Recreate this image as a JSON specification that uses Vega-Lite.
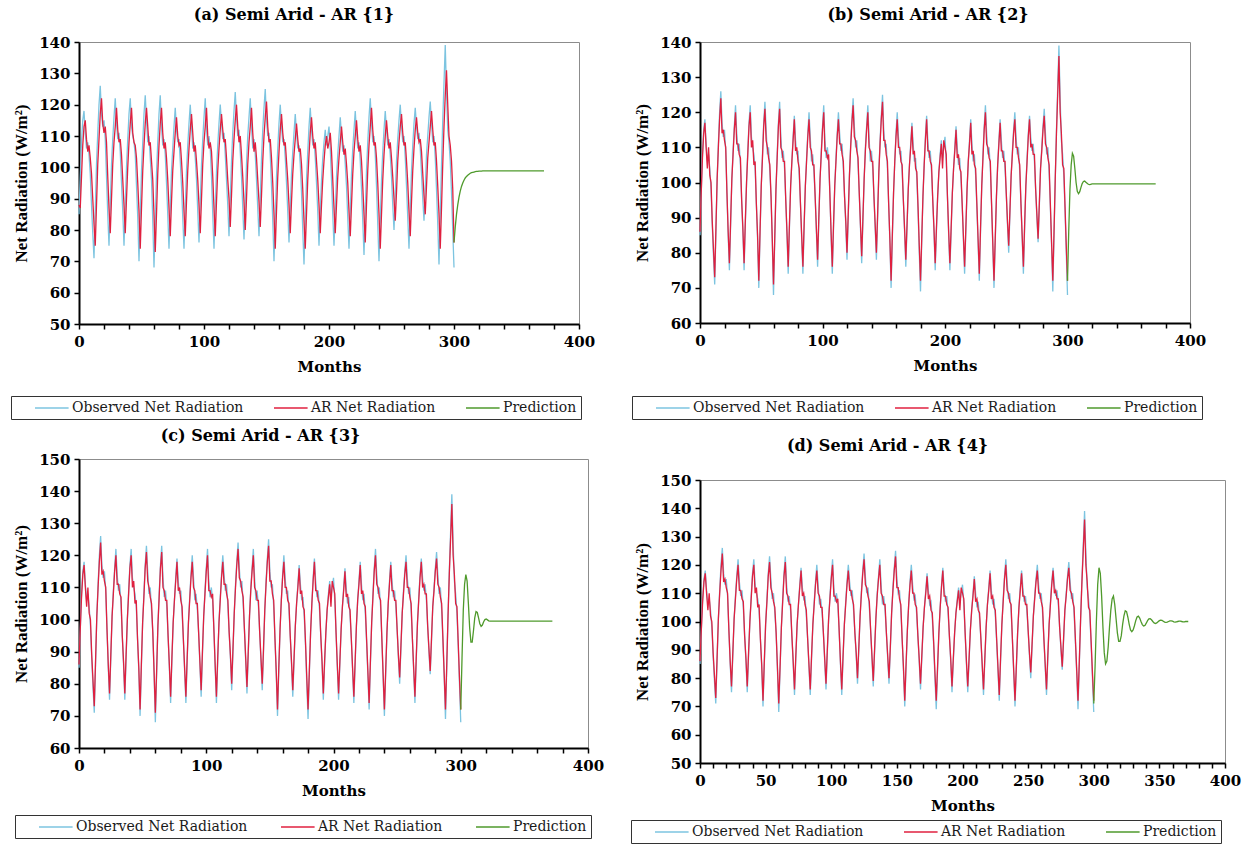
{
"$schema": "https://vega.github.io/schema/vega-lite/v6.json",
"background": "white",
"padding": {"left": 10, "top": 6, "right": 0, "bottom": 0},
"spacing": 25,
"datasets": {
"obs": [
{"m":0,"o":85,"a":88,"f":86},{"m":1,"o":97,"a":87,"f":97},{"m":2,"o":108,"a":97,"f":107},{"m":3,"o":115,"a":107,"f":114},{"m":4,"o":118,"a":113,"f":117},{"m":5,"o":111,"a":115,"f":110},{"m":6,"o":106,"a":109,"f":104},{"m":7,"o":108,"a":105,"f":110},{"m":8,"o":104,"a":107,"f":102},{"m":9,"o":98,"a":103,"f":100},{"m":10,"o":88,"a":98,"f":89},{"m":11,"o":79,"a":90,"f":81},
{"m":12,"o":71,"a":82,"f":73},{"m":13,"o":86,"a":75,"f":87},{"m":14,"o":101,"a":88,"f":101},{"m":15,"o":111,"a":101,"f":110},{"m":16,"o":120,"a":109,"f":118},{"m":17,"o":126,"a":117,"f":124},{"m":18,"o":117,"a":122,"f":114},{"m":19,"o":113,"a":114,"f":115},{"m":20,"o":115,"a":111,"f":112},{"m":21,"o":109,"a":113,"f":110},{"m":22,"o":97,"a":108,"f":97},{"m":23,"o":85,"a":97,"f":86},
{"m":24,"o":75,"a":87,"f":77},{"m":25,"o":88,"a":79,"f":89},{"m":26,"o":101,"a":90,"f":101},{"m":27,"o":109,"a":101,"f":108},{"m":28,"o":116,"a":108,"f":115},{"m":29,"o":122,"a":113,"f":120},{"m":30,"o":114,"a":119,"f":111},{"m":31,"o":109,"a":112,"f":111},{"m":32,"o":111,"a":108,"f":108},{"m":33,"o":105,"a":109,"f":107},{"m":34,"o":95,"a":104,"f":95},{"m":35,"o":86,"a":96,"f":87},
{"m":36,"o":75,"a":88,"f":77},{"m":37,"o":88,"a":79,"f":89},{"m":38,"o":100,"a":90,"f":100},{"m":39,"o":109,"a":100,"f":108},{"m":40,"o":117,"a":108,"f":116},{"m":41,"o":122,"a":114,"f":120},{"m":42,"o":113,"a":119,"f":110},{"m":43,"o":110,"a":111,"f":112},{"m":44,"o":108,"a":108,"f":105},{"m":45,"o":104,"a":107,"f":106},{"m":46,"o":94,"a":103,"f":94},{"m":47,"o":84,"a":95,"f":85},
{"m":48,"o":70,"a":86,"f":72},{"m":49,"o":85,"a":74,"f":86},{"m":50,"o":99,"a":87,"f":99},{"m":51,"o":108,"a":99,"f":107},{"m":52,"o":117,"a":107,"f":116},{"m":53,"o":123,"a":114,"f":121},{"m":54,"o":115,"a":119,"f":112},{"m":55,"o":108,"a":113,"f":110},{"m":56,"o":110,"a":107,"f":107},{"m":57,"o":103,"a":108,"f":105},{"m":58,"o":96,"a":102,"f":96},{"m":59,"o":83,"a":96,"f":84},
{"m":60,"o":68,"a":85,"f":71},{"m":61,"o":83,"a":73,"f":84},{"m":62,"o":98,"a":85,"f":98},{"m":63,"o":108,"a":98,"f":107},{"m":64,"o":117,"a":107,"f":116},{"m":65,"o":123,"a":114,"f":121},{"m":66,"o":113,"a":119,"f":110},{"m":67,"o":107,"a":111,"f":109},{"m":68,"o":109,"a":106,"f":106},{"m":69,"o":104,"a":108,"f":106},{"m":70,"o":95,"a":103,"f":95},{"m":71,"o":85,"a":96,"f":86},
{"m":72,"o":74,"a":87,"f":76},{"m":73,"o":87,"a":78,"f":88},{"m":74,"o":99,"a":89,"f":99},{"m":75,"o":106,"a":99,"f":106},{"m":76,"o":113,"a":105,"f":112},{"m":77,"o":119,"a":111,"f":118},{"m":78,"o":112,"a":116,"f":109},{"m":79,"o":108,"a":110,"f":110},{"m":80,"o":109,"a":107,"f":106},{"m":81,"o":102,"a":108,"f":104},{"m":82,"o":94,"a":102,"f":94},{"m":83,"o":84,"a":95,"f":85},
{"m":84,"o":74,"a":86,"f":76},{"m":85,"o":87,"a":78,"f":88},{"m":86,"o":99,"a":89,"f":99},{"m":87,"o":107,"a":99,"f":106},{"m":88,"o":114,"a":106,"f":113},{"m":89,"o":120,"a":112,"f":118},{"m":90,"o":113,"a":117,"f":110},{"m":91,"o":106,"a":111,"f":109},{"m":92,"o":108,"a":105,"f":105},{"m":93,"o":103,"a":107,"f":105},{"m":94,"o":96,"a":102,"f":96},{"m":95,"o":86,"a":96,"f":87},
{"m":96,"o":76,"a":88,"f":78},{"m":97,"o":89,"a":79,"f":90},{"m":98,"o":101,"a":90,"f":101},{"m":99,"o":109,"a":101,"f":108},{"m":100,"o":116,"a":108,"f":115},{"m":101,"o":122,"a":113,"f":120},{"m":102,"o":112,"a":119,"f":109},{"m":103,"o":107,"a":110,"f":109},{"m":104,"o":110,"a":106,"f":107},{"m":105,"o":106,"a":108,"f":108},{"m":106,"o":97,"a":105,"f":97},{"m":107,"o":85,"a":97,"f":86},
{"m":108,"o":74,"a":87,"f":76},{"m":109,"o":87,"a":78,"f":88},{"m":110,"o":99,"a":89,"f":99},{"m":111,"o":107,"a":99,"f":106},{"m":112,"o":114,"a":106,"f":113},{"m":113,"o":120,"a":112,"f":118},{"m":114,"o":114,"a":117,"f":111},{"m":115,"o":109,"a":112,"f":111},{"m":116,"o":111,"a":108,"f":108},{"m":117,"o":104,"a":109,"f":106},{"m":118,"o":96,"a":103,"f":96},{"m":119,"o":88,"a":96,"f":89},
{"m":120,"o":78,"a":90,"f":80},{"m":121,"o":90,"a":81,"f":91},{"m":122,"o":102,"a":91,"f":102},{"m":123,"o":111,"a":102,"f":110},{"m":124,"o":118,"a":109,"f":117},{"m":125,"o":124,"a":115,"f":122},{"m":126,"o":116,"a":120,"f":113},{"m":127,"o":110,"a":113,"f":112},{"m":128,"o":112,"a":108,"f":109},{"m":129,"o":105,"a":110,"f":107},{"m":130,"o":97,"a":104,"f":97},{"m":131,"o":87,"a":97,"f":88},
{"m":132,"o":77,"a":89,"f":79},{"m":133,"o":89,"a":80,"f":90},{"m":134,"o":101,"a":90,"f":101},{"m":135,"o":110,"a":101,"f":109},{"m":136,"o":116,"a":108,"f":115},{"m":137,"o":122,"a":113,"f":120},{"m":138,"o":113,"a":119,"f":110},{"m":139,"o":106,"a":111,"f":109},{"m":140,"o":109,"a":105,"f":106},{"m":141,"o":104,"a":108,"f":106},{"m":142,"o":96,"a":103,"f":96},{"m":143,"o":87,"a":96,"f":88},
{"m":144,"o":78,"a":89,"f":80},{"m":145,"o":90,"a":81,"f":91},{"m":146,"o":103,"a":91,"f":103},{"m":147,"o":112,"a":102,"f":111},{"m":148,"o":119,"a":110,"f":118},{"m":149,"o":125,"a":116,"f":123},{"m":150,"o":115,"a":121,"f":112},{"m":151,"o":110,"a":113,"f":112},{"m":152,"o":111,"a":108,"f":108},{"m":153,"o":104,"a":109,"f":106},{"m":154,"o":94,"a":103,"f":94},{"m":155,"o":83,"a":95,"f":84},
{"m":156,"o":70,"a":85,"f":72},{"m":157,"o":84,"a":74,"f":85},{"m":158,"o":97,"a":86,"f":97},{"m":159,"o":106,"a":97,"f":106},{"m":160,"o":114,"a":105,"f":113},{"m":161,"o":120,"a":112,"f":118},{"m":162,"o":113,"a":117,"f":110},{"m":163,"o":108,"a":111,"f":110},{"m":164,"o":109,"a":107,"f":106},{"m":165,"o":103,"a":108,"f":105},{"m":166,"o":95,"a":102,"f":95},{"m":167,"o":86,"a":96,"f":87},
{"m":168,"o":76,"a":88,"f":78},{"m":169,"o":87,"a":79,"f":88},{"m":170,"o":98,"a":89,"f":98},{"m":171,"o":105,"a":98,"f":105},{"m":172,"o":111,"a":104,"f":110},{"m":173,"o":117,"a":109,"f":116},{"m":174,"o":111,"a":114,"f":108},{"m":175,"o":106,"a":109,"f":109},{"m":176,"o":107,"a":105,"f":104},{"m":177,"o":101,"a":106,"f":103},{"m":178,"o":92,"a":101,"f":93},{"m":179,"o":80,"a":93,"f":82},
{"m":180,"o":69,"a":83,"f":72},{"m":181,"o":83,"a":74,"f":84},{"m":182,"o":96,"a":85,"f":96},{"m":183,"o":105,"a":96,"f":105},{"m":184,"o":113,"a":104,"f":112},{"m":185,"o":119,"a":111,"f":118},{"m":186,"o":112,"a":116,"f":109},{"m":187,"o":107,"a":110,"f":109},{"m":188,"o":109,"a":106,"f":106},{"m":189,"o":103,"a":108,"f":105},{"m":190,"o":95,"a":102,"f":95},{"m":191,"o":86,"a":96,"f":87},
{"m":192,"o":75,"a":88,"f":77},{"m":193,"o":86,"a":79,"f":87},{"m":194,"o":96,"a":88,"f":96},{"m":195,"o":103,"a":96,"f":103},{"m":196,"o":108,"a":102,"f":107},{"m":197,"o":112,"a":107,"f":111},{"m":198,"o":107,"a":110,"f":104},{"m":199,"o":110,"a":106,"f":112},{"m":200,"o":113,"a":108,"f":110},{"m":201,"o":106,"a":111,"f":108},{"m":202,"o":96,"a":105,"f":96},{"m":203,"o":85,"a":96,"f":86},
{"m":204,"o":75,"a":87,"f":77},{"m":205,"o":86,"a":79,"f":87},{"m":206,"o":97,"a":88,"f":97},{"m":207,"o":104,"a":97,"f":104},{"m":208,"o":110,"a":103,"f":109},{"m":209,"o":116,"a":108,"f":115},{"m":210,"o":110,"a":113,"f":107},{"m":211,"o":105,"a":108,"f":108},{"m":212,"o":107,"a":104,"f":104},{"m":213,"o":101,"a":106,"f":103},{"m":214,"o":94,"a":101,"f":94},{"m":215,"o":84,"a":95,"f":85},
{"m":216,"o":74,"a":86,"f":76},{"m":217,"o":86,"a":78,"f":87},{"m":218,"o":98,"a":88,"f":98},{"m":219,"o":106,"a":98,"f":106},{"m":220,"o":112,"a":105,"f":111},{"m":221,"o":118,"a":110,"f":117},{"m":222,"o":111,"a":115,"f":108},{"m":223,"o":106,"a":109,"f":109},{"m":224,"o":108,"a":105,"f":105},{"m":225,"o":102,"a":107,"f":104},{"m":226,"o":93,"a":102,"f":94},{"m":227,"o":83,"a":94,"f":84},
{"m":228,"o":72,"a":85,"f":74},{"m":229,"o":86,"a":76,"f":87},{"m":230,"o":99,"a":88,"f":99},{"m":231,"o":108,"a":99,"f":107},{"m":232,"o":116,"a":107,"f":115},{"m":233,"o":122,"a":113,"f":120},{"m":234,"o":114,"a":119,"f":111},{"m":235,"o":108,"a":112,"f":110},{"m":236,"o":110,"a":107,"f":107},{"m":237,"o":104,"a":108,"f":106},{"m":238,"o":94,"a":103,"f":94},{"m":239,"o":82,"a":95,"f":83},
{"m":240,"o":70,"a":85,"f":72},{"m":241,"o":83,"a":74,"f":84},{"m":242,"o":96,"a":85,"f":96},{"m":243,"o":105,"a":96,"f":105},{"m":244,"o":112,"a":104,"f":111},{"m":245,"o":118,"a":110,"f":117},{"m":246,"o":112,"a":115,"f":109},{"m":247,"o":107,"a":110,"f":109},{"m":248,"o":109,"a":106,"f":106},{"m":249,"o":104,"a":108,"f":106},{"m":250,"o":97,"a":103,"f":97},{"m":251,"o":88,"a":97,"f":89},
{"m":252,"o":80,"a":90,"f":82},{"m":253,"o":91,"a":83,"f":92},{"m":254,"o":102,"a":92,"f":102},{"m":255,"o":109,"a":102,"f":108},{"m":256,"o":115,"a":108,"f":114},{"m":257,"o":120,"a":113,"f":118},{"m":258,"o":113,"a":117,"f":110},{"m":259,"o":108,"a":111,"f":110},{"m":260,"o":110,"a":107,"f":107},{"m":261,"o":103,"a":108,"f":105},{"m":262,"o":94,"a":102,"f":94},{"m":263,"o":84,"a":95,"f":85},
{"m":264,"o":74,"a":86,"f":76},{"m":265,"o":87,"a":78,"f":88},{"m":266,"o":99,"a":89,"f":99},{"m":267,"o":107,"a":99,"f":106},{"m":268,"o":114,"a":106,"f":113},{"m":269,"o":119,"a":112,"f":118},{"m":270,"o":113,"a":116,"f":110},{"m":271,"o":109,"a":111,"f":111},{"m":272,"o":111,"a":108,"f":108},{"m":273,"o":106,"a":109,"f":108},{"m":274,"o":98,"a":105,"f":98},{"m":275,"o":90,"a":98,"f":91},
{"m":276,"o":83,"a":91,"f":84},{"m":277,"o":93,"a":85,"f":94},{"m":278,"o":104,"a":94,"f":104},{"m":279,"o":110,"a":103,"f":109},{"m":280,"o":116,"a":108,"f":115},{"m":281,"o":121,"a":113,"f":119},{"m":282,"o":114,"a":118,"f":111},{"m":283,"o":108,"a":112,"f":110},{"m":284,"o":110,"a":107,"f":107},{"m":285,"o":103,"a":108,"f":105},{"m":286,"o":93,"a":102,"f":94},{"m":287,"o":82,"a":94,"f":83},
{"m":288,"o":69,"a":85,"f":72},{"m":289,"o":85,"a":74,"f":86},{"m":290,"o":101,"a":87,"f":101},{"m":291,"o":115,"a":101,"f":114},{"m":292,"o":127,"a":113,"f":125},{"m":293,"o":139,"a":123,"f":136},{"m":294,"o":124,"a":131,"f":120},{"m":295,"o":112,"a":120,"f":114},{"m":296,"o":108,"a":110,"f":105},{"m":297,"o":102,"a":107,"f":104},{"m":298,"o":92,"a":102,"f":93},{"m":299,"o":80,"a":93,"f":82},
{"m":300,"o":68,"a":76,"f":72}
],
"pred": [
{"m":300,"p1":76,"p2":72,"p3":72,"p4":71},{"m":301,"p1":81,"p2":86,"p3":88,"p4":84},{"m":302,"p1":85,"p2":98,"p3":103,"p4":100},{"m":303,"p1":88,"p2":105,"p3":111,"p4":113},{"m":304,"p1":90.5,"p2":108.3,"p3":114,"p4":119},{"m":305,"p1":92.4,"p2":107.5,"p3":112,"p4":117},{"m":306,"p1":93.9,"p2":104,"p3":105,"p4":109},{"m":307,"p1":95,"p2":100,"p3":97.5,"p4":98},{"m":308,"p1":95.9,"p2":97.5,"p3":93,"p4":89},{"m":309,"p1":96.6,"p2":96.8,"p3":93,"p4":85},
{"m":310,"p1":97.1,"p2":97.4,"p3":96.5,"p4":86},{"m":311,"p1":97.5,"p2":98.6,"p3":100.5,"p4":91},{"m":312,"p1":97.8,"p2":99.7,"p3":102.5,"p4":98},{"m":313,"p1":98.1,"p2":100.3,"p3":102.2,"p4":104},{"m":314,"p1":98.3,"p2":100.4,"p3":100.5,"p4":108},{"m":315,"p1":98.4,"p2":100.1,"p3":98.7,"p4":109},{"m":316,"p1":98.5,"p2":99.8,"p3":97.9,"p4":106},{"m":317,"p1":98.6,"p2":99.5,"p3":98.3,"p4":101},{"m":318,"p1":98.7,"p2":99.4,"p3":99.3,"p4":96},{"m":319,"p1":98.7,"p2":99.5,"p3":100,"p4":93},
{"m":320,"p1":98.8,"p2":99.6,"p3":100.2,"p4":93},{"m":321,"p1":98.8,"p2":99.6,"p3":99.9,"p4":95},{"m":322,"p1":98.8,"p2":99.6,"p3":99.6,"p4":99},{"m":323,"p1":98.9,"p2":99.6,"p3":99.5,"p4":102},{"m":324,"p1":98.9,"p2":99.6,"p3":99.5,"p4":103.8},{"m":325,"p1":98.9,"p2":99.6,"p3":99.5,"p4":103.5},{"m":326,"p1":98.9,"p2":99.6,"p3":99.5,"p4":101.5},{"m":327,"p1":98.9,"p2":99.6,"p3":99.5,"p4":99},{"m":328,"p1":98.9,"p2":99.6,"p3":99.5,"p4":97},{"m":329,"p1":98.9,"p2":99.6,"p3":99.5,"p4":96.4},
{"m":330,"p1":98.9,"p2":99.6,"p3":99.5,"p4":97},{"m":331,"p1":98.9,"p2":99.6,"p3":99.5,"p4":98.5},{"m":332,"p1":98.9,"p2":99.6,"p3":99.5,"p4":100.3},{"m":333,"p1":98.9,"p2":99.6,"p3":99.5,"p4":101.6},{"m":334,"p1":98.9,"p2":99.6,"p3":99.5,"p4":101.9},{"m":335,"p1":98.9,"p2":99.6,"p3":99.5,"p4":101.2},{"m":336,"p1":98.9,"p2":99.6,"p3":99.5,"p4":100},{"m":337,"p1":98.9,"p2":99.6,"p3":99.5,"p4":98.9},{"m":338,"p1":98.9,"p2":99.6,"p3":99.5,"p4":98.4},{"m":339,"p1":98.9,"p2":99.6,"p3":99.5,"p4":98.6},
{"m":340,"p1":98.9,"p2":99.6,"p3":99.5,"p4":99.4},{"m":341,"p1":98.9,"p2":99.6,"p3":99.5,"p4":100.3},{"m":342,"p1":98.9,"p2":99.6,"p3":99.5,"p4":100.9},{"m":343,"p1":98.9,"p2":99.6,"p3":99.5,"p4":101},{"m":344,"p1":98.9,"p2":99.6,"p3":99.5,"p4":100.6},{"m":345,"p1":98.9,"p2":99.6,"p3":99.5,"p4":100},{"m":346,"p1":98.9,"p2":99.6,"p3":99.5,"p4":99.5},{"m":347,"p1":98.9,"p2":99.6,"p3":99.5,"p4":99.3},{"m":348,"p1":98.9,"p2":99.6,"p3":99.5,"p4":99.5},{"m":349,"p1":98.9,"p2":99.6,"p3":99.5,"p4":99.9},
{"m":350,"p1":98.9,"p2":99.6,"p3":99.5,"p4":100.3},{"m":351,"p1":98.9,"p2":99.6,"p3":99.5,"p4":100.5},{"m":352,"p1":98.9,"p2":99.6,"p3":99.5,"p4":100.4},{"m":353,"p1":98.9,"p2":99.6,"p3":99.5,"p4":100.1},{"m":354,"p1":98.9,"p2":99.6,"p3":99.5,"p4":99.8},{"m":355,"p1":98.9,"p2":99.6,"p3":99.5,"p4":99.7},{"m":356,"p1":98.9,"p2":99.6,"p3":99.5,"p4":99.8},{"m":357,"p1":98.9,"p2":99.6,"p3":99.5,"p4":100},{"m":358,"p1":98.9,"p2":99.6,"p3":99.5,"p4":100.2},{"m":359,"p1":98.9,"p2":99.6,"p3":99.5,"p4":100.2},
{"m":360,"p1":98.9,"p2":99.6,"p3":99.5,"p4":100.1},{"m":361,"p1":98.9,"p2":99.6,"p3":99.5,"p4":99.9},{"m":362,"p1":98.9,"p2":99.6,"p3":99.5,"p4":99.8},{"m":363,"p1":98.9,"p2":99.6,"p3":99.5,"p4":99.9},{"m":364,"p1":98.9,"p2":99.6,"p3":99.5,"p4":100},{"m":365,"p1":98.9,"p2":99.6,"p3":99.5,"p4":100.1},{"m":366,"p1":98.9,"p2":99.6,"p3":99.5,"p4":100.1},{"m":367,"p1":98.9,"p2":99.6,"p3":99.5,"p4":100},{"m":368,"p1":98.9,"p2":99.6,"p3":99.5,"p4":99.9},{"m":369,"p1":98.9,"p2":99.6,"p3":99.5,"p4":99.9},
{"m":370,"p1":98.9,"p2":99.6,"p3":99.5,"p4":100},{"m":371,"p1":98.9,"p2":99.6,"p3":99.5,"p4":100},{"m":372,"p1":98.9,"p2":99.6,"p3":99.5,"p4":100}
]
},
"hconcat": [
{
"spacing": 7,
"resolve": {"scale": {"color": "independent", "x": "independent", "y": "independent"}, "legend": {"color": "independent"}},
"vconcat": [
{
"width": 500, "height": 282,
"title": {"text": "(a) Semi Arid - AR {1}", "offset": 12, "dx": -35},
"encoding": {"x": {"field": "m", "type": "quantitative", "title": "Months", "scale": {"domain": [0, 400], "nice": false, "zero": false}, "axis": {"values": [0,20,40,60,80,100,120,140,160,180,200,220,240,260,280,300,320,340,360,380,400], "labelExpr": "datum.value % 100 === 0 ? datum.label : ''"}}},
"layer": [
{"data": {"name": "obs"}, "mark": {"type": "line", "strokeWidth": 1.3},
 "encoding": {"y": {"field": "o", "type": "quantitative", "title": "Net Radiation (W/m²)", "scale": {"domain": [50, 140], "nice": false, "zero": false}, "axis": {"values": [50,60,70,80,90,100,110,120,130,140], "labelOverlap": false}},
  "color": {"datum": "Observed Net Radiation", "type": "nominal", "scale": {"domain": ["Observed Net Radiation", "AR Net Radiation", "Prediction"], "range": ["#7cc4e0", "#e0203f", "#4f9a2c"]}, "legend": {"title": null, "legendX": -68, "legendY": 354, "columnPadding": 10, "symbolType": "M-1,0H3.8"}}}},
{"data": {"name": "obs"}, "mark": {"type": "line", "strokeWidth": 1.3},
 "encoding": {"y": {"field": "a", "type": "quantitative", "title": "Net Radiation (W/m²)", "scale": {"domain": [50, 140], "nice": false, "zero": false}, "axis": {"values": [50,60,70,80,90,100,110,120,130,140], "labelOverlap": false}}, "color": {"datum": "AR Net Radiation", "type": "nominal"}}},
{"data": {"name": "pred"}, "mark": {"type": "line", "strokeWidth": 1.3},
 "encoding": {"y": {"field": "p1", "type": "quantitative", "title": "Net Radiation (W/m²)", "scale": {"domain": [50, 140], "nice": false, "zero": false}, "axis": {"values": [50,60,70,80,90,100,110,120,130,140], "labelOverlap": false}}, "color": {"datum": "Prediction", "type": "nominal"}}}
]
},
{
"width": 509, "height": 289,
"title": {"text": "(c) Semi Arid  - AR {3}", "offset": 8, "dx": -73},
"encoding": {"x": {"field": "m", "type": "quantitative", "title": "Months", "scale": {"domain": [0, 400], "nice": false, "zero": false}, "axis": {"values": [0,20,40,60,80,100,120,140,160,180,200,220,240,260,280,300,320,340,360,380,400], "labelExpr": "datum.value % 100 === 0 ? datum.label : ''"}}},
"layer": [
{"data": {"name": "obs"}, "mark": {"type": "line", "strokeWidth": 1.3},
 "encoding": {"y": {"field": "o", "type": "quantitative", "title": "Net Radiation (W/m²)", "scale": {"domain": [60, 150], "nice": false, "zero": false}, "axis": {"values": [60,70,80,90,100,110,120,130,140,150], "labelOverlap": false}},
  "color": {"datum": "Observed Net Radiation", "type": "nominal", "scale": {"domain": ["Observed Net Radiation", "AR Net Radiation", "Prediction"], "range": ["#7cc4e0", "#e0203f", "#4f9a2c"]}, "legend": {"title": null, "legendX": -64, "legendY": 356, "columnPadding": 13, "symbolType": "M-1,0H3.8"}}}},
{"data": {"name": "obs"}, "mark": {"type": "line", "strokeWidth": 1.3},
 "encoding": {"y": {"field": "f", "type": "quantitative", "title": "Net Radiation (W/m²)", "scale": {"domain": [60, 150], "nice": false, "zero": false}, "axis": {"values": [60,70,80,90,100,110,120,130,140,150], "labelOverlap": false}}, "color": {"datum": "AR Net Radiation", "type": "nominal"}}},
{"data": {"name": "pred"}, "mark": {"type": "line", "strokeWidth": 1.3},
 "encoding": {"y": {"field": "p3", "type": "quantitative", "title": "Net Radiation (W/m²)", "scale": {"domain": [60, 150], "nice": false, "zero": false}, "axis": {"values": [60,70,80,90,100,110,120,130,140,150], "labelOverlap": false}}, "color": {"datum": "Prediction", "type": "nominal"}}}
]
}
]
},
{
"spacing": 17,
"resolve": {"scale": {"color": "independent", "x": "independent", "y": "independent"}, "legend": {"color": "independent"}},
"vconcat": [
{
"width": 490, "height": 281,
"title": {"text": "(b) Semi Arid  - AR {2}", "offset": 12, "dx": -17},
"encoding": {"x": {"field": "m", "type": "quantitative", "title": "Months", "scale": {"domain": [0, 400], "nice": false, "zero": false}, "axis": {"values": [0,20,40,60,80,100,120,140,160,180,200,220,240,260,280,300,320,340,360,380,400], "labelExpr": "datum.value % 100 === 0 ? datum.label : ''"}}},
"layer": [
{"data": {"name": "obs"}, "mark": {"type": "line", "strokeWidth": 1.3},
 "encoding": {"y": {"field": "o", "type": "quantitative", "title": "Net Radiation (W/m²)", "scale": {"domain": [60, 140], "nice": false, "zero": false}, "axis": {"values": [60,70,80,90,100,110,120,130,140], "labelOverlap": false}},
  "color": {"datum": "Observed Net Radiation", "type": "nominal", "scale": {"domain": ["Observed Net Radiation", "AR Net Radiation", "Prediction"], "range": ["#7cc4e0", "#e0203f", "#4f9a2c"]}, "legend": {"title": null, "legendX": -68, "legendY": 354, "columnPadding": 10, "symbolType": "M-1,0H3.8"}}}},
{"data": {"name": "obs"}, "mark": {"type": "line", "strokeWidth": 1.3},
 "encoding": {"y": {"field": "f", "type": "quantitative", "title": "Net Radiation (W/m²)", "scale": {"domain": [60, 140], "nice": false, "zero": false}, "axis": {"values": [60,70,80,90,100,110,120,130,140], "labelOverlap": false}}, "color": {"datum": "AR Net Radiation", "type": "nominal"}}},
{"data": {"name": "pred"}, "mark": {"type": "line", "strokeWidth": 1.3},
 "encoding": {"y": {"field": "p2", "type": "quantitative", "title": "Net Radiation (W/m²)", "scale": {"domain": [60, 140], "nice": false, "zero": false}, "axis": {"values": [60,70,80,90,100,110,120,130,140], "labelOverlap": false}}, "color": {"datum": "Prediction", "type": "nominal"}}}
]
},
{
"width": 525, "height": 283,
"title": {"text": "(d) Semi Arid  - AR {4}", "offset": 19, "dx": -75},
"encoding": {"x": {"field": "m", "type": "quantitative", "title": "Months", "scale": {"domain": [0, 400], "nice": false, "zero": false}, "axis": {"values": [0,10,20,30,40,50,60,70,80,90,100,110,120,130,140,150,160,170,180,190,200,210,220,230,240,250,260,270,280,290,300,310,320,330,340,350,360,370,380,390,400], "labelExpr": "datum.value % 50 === 0 ? datum.label : ''"}}},
"layer": [
{"data": {"name": "obs"}, "mark": {"type": "line", "strokeWidth": 1.3},
 "encoding": {"y": {"field": "o", "type": "quantitative", "title": "Net Radiation (W/m²)", "scale": {"domain": [50, 150], "nice": false, "zero": false}, "axis": {"values": [50,60,70,80,90,100,110,120,130,140,150], "labelOverlap": false}},
  "color": {"datum": "Observed Net Radiation", "type": "nominal", "scale": {"domain": ["Observed Net Radiation", "AR Net Radiation", "Prediction"], "range": ["#7cc4e0", "#e0203f", "#4f9a2c"]}, "legend": {"title": null, "legendX": -69, "legendY": 340, "columnPadding": 20, "symbolType": "M-1,0H3.8"}}}},
{"data": {"name": "obs"}, "mark": {"type": "line", "strokeWidth": 1.3},
 "encoding": {"y": {"field": "f", "type": "quantitative", "title": "Net Radiation (W/m²)", "scale": {"domain": [50, 150], "nice": false, "zero": false}, "axis": {"values": [50,60,70,80,90,100,110,120,130,140,150], "labelOverlap": false}}, "color": {"datum": "AR Net Radiation", "type": "nominal"}}},
{"data": {"name": "pred"}, "mark": {"type": "line", "strokeWidth": 1.3},
 "encoding": {"y": {"field": "p4", "type": "quantitative", "title": "Net Radiation (W/m²)", "scale": {"domain": [50, 150], "nice": false, "zero": false}, "axis": {"values": [50,60,70,80,90,100,110,120,130,140,150], "labelOverlap": false}}, "color": {"datum": "Prediction", "type": "nominal"}}}
]
}
]
}
],
"resolve": {"scale": {"color": "independent", "x": "independent", "y": "independent"}, "legend": {"color": "independent"}},
"config": {
"view": {"stroke": "#8c8c8c", "strokeWidth": 1},
"axis": {"grid": false, "domainColor": "black", "domainWidth": 2, "tickColor": "black", "tickWidth": 1.5, "tickSize": 5, "labelFont": "DejaVu Serif", "labelFontSize": 15, "labelFontWeight": "bold", "labelColor": "black", "labelOverlap": false, "titleFont": "DejaVu Serif", "titleFontSize": 15, "titleFontWeight": "bold", "titleColor": "black"},
"axisX": {"labelFlush": false, "labelOverlap": false, "labelPadding": 5, "titlePadding": 10},
"axisY": {"labelPadding": 4, "labelOverlap": false, "titleFont": "Liberation Serif", "titleFontSize": 17, "titlePadding": 8},
"title": {"font": "DejaVu Serif", "fontSize": 16, "fontWeight": "bold", "color": "black", "anchor": "middle"},
"legend": {"orient": "none", "direction": "horizontal", "columns": 3, "strokeColor": "#333333", "fillColor": "white", "padding": 4, "symbolSize": 196, "symbolStrokeWidth": 1.5, "symbolOffset": 19, "labelOffset": 22, "labelFont": "DejaVu Serif", "labelFontSize": 14, "labelColor": "#1a1a1a", "labelLimit": 400, "rowPadding": 0}
}
}
